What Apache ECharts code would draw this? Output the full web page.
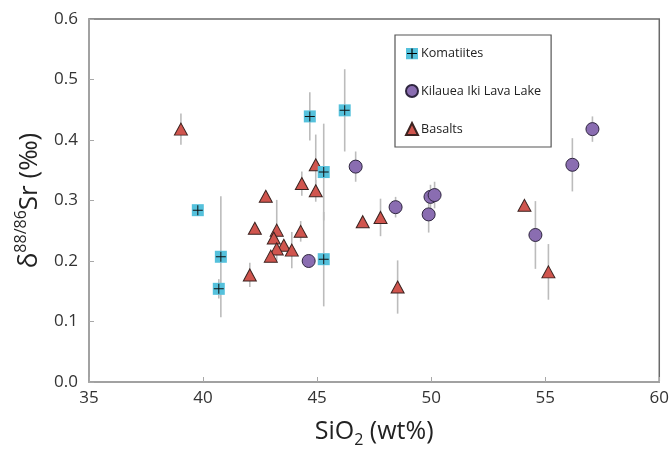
<!DOCTYPE html>
<html>
<head>
<meta charset="utf-8">
<script src="https://cdn.jsdelivr.net/npm/echarts@6/dist/echarts.min.js"></script>
<style>
html,body{margin:0;padding:0;background:#fff;}
#chart{width:672px;height:453px;}
</style>
</head>
<body>
<div id="chart"></div>
<script>
// ---- Data ----
const seriesNames = ['Komatiites', 'Kilauea Iki Lava Lake', 'Basalts'];

const komSiO2 = [39.77, 40.78, 40.69, 44.68, 46.21, 45.29, 45.29];
const komSr   = [0.284, 0.207, 0.154, 0.439, 0.449, 0.347, 0.203];
const komErr  = [0.004, 0.100, 0.016, 0.040, 0.068, 0.080, 0.078];

const kilSiO2 = [44.63, 46.69, 48.44, 49.97, 50.15, 49.89, 54.57, 56.19, 57.07];
const kilSr   = [0.200, 0.356, 0.289, 0.306, 0.309, 0.277, 0.243, 0.359, 0.418];
const kilErr  = [0.004, 0.025, 0.017, 0.020, 0.022, 0.030, 0.056, 0.044, 0.021];

const basSiO2 = [39.03, 44.94, 44.33, 44.94, 42.75, 42.27, 43.23, 43.10, 44.28, 43.54, 43.23, 43.89, 42.97, 42.05, 47.00, 47.78, 48.53, 54.09, 55.14];
const basSr   = [0.418, 0.359, 0.328, 0.316, 0.307, 0.254, 0.251, 0.238, 0.249, 0.226, 0.220, 0.218, 0.208, 0.177, 0.265, 0.272, 0.157, 0.292, 0.182];
const basErr  = [0.026, 0.050, 0.020, 0.018, 0.006, 0.006, 0.050, 0.006, 0.017, 0.006, 0.006, 0.030, 0.006, 0.020, 0.006, 0.031, 0.044, 0.006, 0.046];

const xTicks = [35, 40, 45, 50, 55, 60];
const yTicks = [0.0, 0.1, 0.2, 0.3, 0.4, 0.5, 0.6];

// ---- Build chart ----
const FONT = '"Open Sans", "Noto Sans", sans-serif';
const pts = (xs, ys) => xs.map((x, i) => [x, ys[i]]);
const errPts = (xs, ys, es) => xs.map((x, i) => [x, ys[i], es[i]]);

const komColor = '#55c1dc';
const kilColor = '#8a6db1';
const basColor = '#d0554e';

const komIconSvg = '<svg xmlns="http://www.w3.org/2000/svg" width="24" height="24" viewBox="0 0 24 24">' +
  '<rect x="0" y="0" width="24" height="24" fill="' + komColor + '"/>' +
  '<line x1="12" y1="2" x2="12" y2="22" stroke="#000" stroke-width="2.4"/>' +
  '<line x1="2" y1="12" x2="22" y2="12" stroke="#000" stroke-width="2.4"/></svg>';
const komIcon = 'image://data:image/svg+xml;charset=utf-8,' + encodeURIComponent(komIconSvg);

function errorBarRender(params, api) {
  const x = api.value(0), y = api.value(1), e = api.value(2);
  const p1 = api.coord([x, y - e]);
  const p2 = api.coord([x, y + e]);
  return {
    type: 'line',
    shape: { x1: p1[0], y1: p1[1], x2: p2[0], y2: p2[1] },
    style: { stroke: '#bcbcbc', lineWidth: 1.6 }
  };
}

const chart = echarts.init(document.getElementById('chart'), null, { renderer: 'canvas' });

const option = {
  animation: false,
  backgroundColor: '#ffffff',
  grid: {
    left: 89, right: 12, top: 19, bottom: 68,
    show: true, borderColor: '#6a6a6a', borderWidth: 1.5, backgroundColor: 'transparent'
  },
  legend: {
    orient: 'vertical',
    left: 395, top: 35,
    padding: [12, 10, 11, 10],
    itemGap: 24,
    itemWidth: 12, itemHeight: 12,
    borderColor: '#555', borderWidth: 1.2,
    backgroundColor: '#fff',
    data: [
      { name: seriesNames[0], icon: komIcon },
      { name: seriesNames[1], icon: 'circle' },
      { name: seriesNames[2], icon: 'triangle' }
    ],
    textStyle: { fontFamily: FONT, fontSize: 12.6, color: '#222', padding: [0, 0, 0, -2] }
  },
  xAxis: {
    type: 'value', min: 35, max: 60, interval: 5,
    name: '{n|SiO}{sub|2}{n| (wt%)}',
    nameLocation: 'middle', nameGap: 34,
    nameTextStyle: {
      rich: {
        n: { fontFamily: FONT, fontSize: 25, color: '#222', lineHeight: 32, verticalAlign: 'middle' },
        sub: { fontFamily: FONT, fontSize: 16, color: '#222', lineHeight: 32, verticalAlign: 'bottom' }
      }
    },
    axisLine: { show: true, lineStyle: { color: '#a8a8a8', width: 1.5 } },
    axisTick: { show: true, inside: true, length: 5, lineStyle: { color: '#a8a8a8' } },
    splitLine: { show: false },
    axisLabel: {
      fontFamily: FONT, fontSize: 17, color: '#333', margin: 8,
      customValues: xTicks,
      formatter: v => String(v)
    }
  },
  yAxis: {
    type: 'value', min: 0, max: 0.6, interval: 0.1,
    name: '{n|δ}{sup|88/86}{n|Sr (‰)}',
    nameLocation: 'middle', nameGap: 42, nameRotate: 90,
    nameTextStyle: {
      rich: {
        n: { fontFamily: FONT, fontSize: 26, color: '#222', lineHeight: 34, verticalAlign: 'middle' },
        sup: { fontFamily: FONT, fontSize: 16, color: '#222', lineHeight: 34, verticalAlign: 'top' }
      }
    },
    axisLine: { show: true, lineStyle: { color: '#a8a8a8', width: 1.5 } },
    axisTick: { show: true, inside: true, length: 5, lineStyle: { color: '#a8a8a8' } },
    splitLine: { show: false },
    axisLabel: {
      fontFamily: FONT, fontSize: 17, color: '#333', margin: 11,
      formatter: v => Number(v).toFixed(1)
    }
  },
  series: [
    { name: 'err-kom', type: 'custom', renderItem: errorBarRender, data: errPts(komSiO2, komSr, komErr), z: 1, silent: true },
    { name: 'err-kil', type: 'custom', renderItem: errorBarRender, data: errPts(kilSiO2, kilSr, kilErr), z: 1, silent: true },
    { name: 'err-bas', type: 'custom', renderItem: errorBarRender, data: errPts(basSiO2, basSr, basErr), z: 1, silent: true },
    {
      name: seriesNames[2], type: 'scatter', data: pts(basSiO2, basSr),
      symbol: 'triangle', symbolSize: [13, 12], z: 3,
      itemStyle: { color: basColor, borderColor: '#3b2320', borderWidth: 1, opacity: 1 }
    },
    {
      name: seriesNames[1], type: 'scatter', data: pts(kilSiO2, kilSr),
      symbol: 'circle', symbolSize: 13, z: 3,
      itemStyle: { color: kilColor, borderColor: '#2f2640', borderWidth: 1, opacity: 1 }
    },
    {
      name: seriesNames[0], type: 'scatter', data: pts(komSiO2, komSr),
      symbol: 'rect', symbolSize: 12, z: 4,
      itemStyle: { color: komColor, opacity: 1 }
    },
    {
      name: 'kom-cross', type: 'scatter', data: pts(komSiO2, komSr),
      symbol: 'path://M4.5,0 L5.5,0 L5.5,4.5 L10,4.5 L10,5.5 L5.5,5.5 L5.5,10 L4.5,10 L4.5,5.5 L0,5.5 L0,4.5 L4.5,4.5 Z',
      symbolSize: 10, z: 5, silent: true,
      itemStyle: { color: '#111', opacity: 1 }
    }
  ]
};
chart.setOption(option);
</script>
</body>
</html>
